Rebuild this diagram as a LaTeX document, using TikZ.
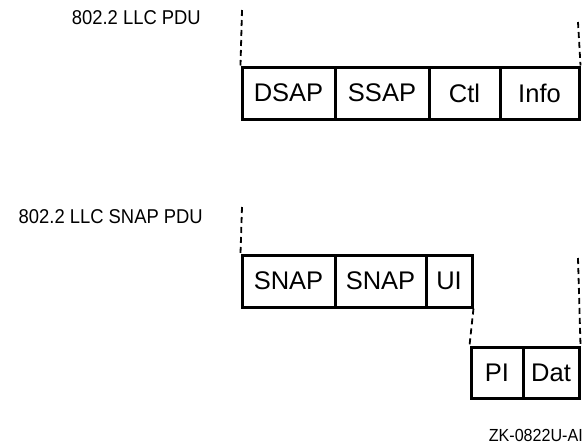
\documentclass[tikz,border=0pt]{standalone}
\usepackage{fontspec}
\setmainfont{Liberation Sans}
\newfontfamily\narrowsans[FakeStretch=0.92]{Liberation Sans}
\begin{document}
\begin{tikzpicture}[x=1pt,y=-1pt,
  cell/.style={draw, line width=3pt, inner sep=0pt, font=\fontsize{25.5}{27}\selectfont},
  lbl/.style={inner sep=0pt, font=\narrowsans\fontsize{20}{22}\selectfont},
  guide/.style={line width=1.8pt, dash pattern=on 6pt off 4pt}]
\useasboundingbox (0,0) rectangle (584,445);
% top row
\node[cell, minimum width=93pt, minimum height=52pt] (dsap) at (288.5,93) {DSAP};
\node[cell, minimum width=94pt, minimum height=52pt] (ssap) at (382,93) {SSAP};
\node[cell, minimum width=71pt, minimum height=52pt] (ctl) at (464.5,93) {Ctl};
\node[cell, minimum width=79pt, minimum height=52pt] (info) at (539.5,93) {Info};
\node[lbl, anchor=east] (l1) at (201,18) {802.2 LLC PDU};
\coordinate (t1) at (242,10);
\coordinate (t2) at (578,22);
\draw[guide] (t1) -- (dsap.north west);
\draw[guide] (t2) -- (info.north east);
% snap row
\node[cell, minimum width=93pt, minimum height=52pt] (snap1) at (288.5,281) {SNAP};
\node[cell, minimum width=91pt, minimum height=52pt] (snap2) at (380.5,281) {SNAP};
\node[cell, minimum width=46pt, minimum height=52pt] (ui) at (449,281) {UI};
\node[lbl, anchor=east] (l2) at (203,217) {802.2 LLC SNAP PDU};
\coordinate (s1) at (242,207);
\coordinate (s2) at (578,258);
\draw[guide] (s1) -- (snap1.north west);
% bottom row
\node[cell, minimum width=52pt, minimum height=51pt] (pi) at (497,372.5) {PI};
\node[cell, minimum width=56pt, minimum height=51pt] (dat) at (551,372.5) {Dat};
\draw[guide] (ui.south east) -- (pi.north west);
\draw[guide] (s2) -- (dat.north east);
\node[lbl, anchor=east, font=\narrowsans\fontsize{17.5}{20}\selectfont] (zk) at (583,435) {ZK-0822U-AI};
\end{tikzpicture}
\end{document}
